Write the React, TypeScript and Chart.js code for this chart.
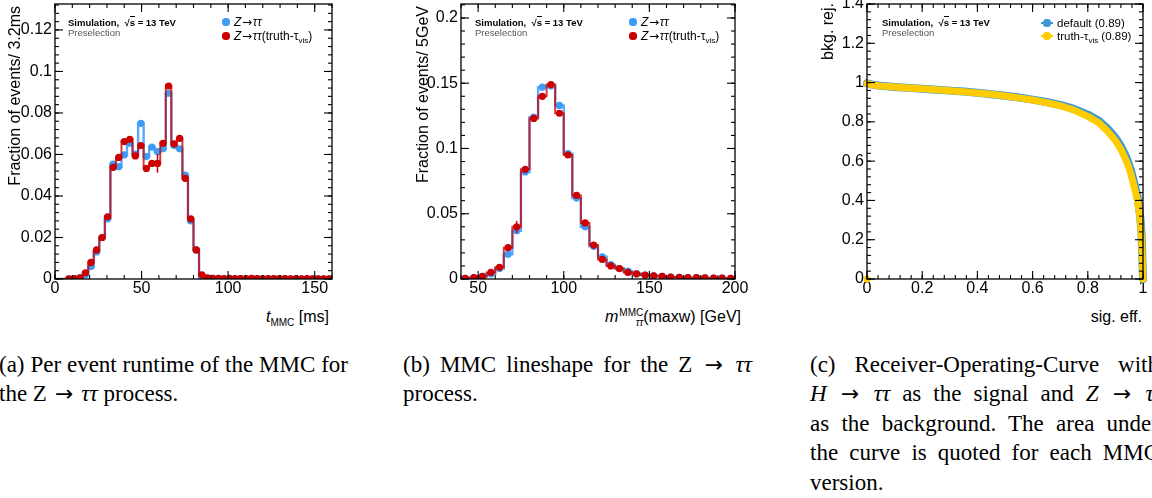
import React, { useEffect, useLayoutEffect, useRef } from 'react';
import { Chart, registerables } from 'chart.js';

Chart.register(...registerables);

const SANS = '"Liberation Sans", Arial, Helvetica, sans-serif';
const SERIF = '"Liberation Serif", "Times New Roman", serif';
const ARROWFONT = '"DejaVu Sans", sans-serif';
Chart.defaults.font.family = SANS;
Chart.defaults.color = '#000';

// ---------------- (a) MMC runtime, 3.2 ms bins ----------------
const runtimeBinStart = 0;
const runtimeBinWidth = 3.2;
const runtimeXTicks = [0, 50, 100, 150];
const runtimeYTicks = [0, 0.02, 0.04, 0.06, 0.08, 0.1, 0.12];
const runtimeDefault = [
  0, 0, 0.0001, 0.0002, 0.0005, 0.002, 0.006, 0.013, 0.02, 0.029,
  0.0554, 0.0541, 0.0598, 0.0654, 0.0602, 0.075, 0.059, 0.0635, 0.0614, 0.0627,
  0.0895, 0.0643, 0.0627, 0.0501, 0.028, 0.014, 0.001, 0.0003, 0.0003, 0.0003,
  0.0002, 0.0003, 0.0002, 0.0002, 0.0002, 0.0003, 0.0002, 0.0002, 0.0002, 0.0002,
  0.0002, 0.0002, 0.0001, 0.0002, 0.0001, 0.0002, 0.0001, 0.0001, 0.0001, 0.0001,
];
const runtimeTruth = [
  0, 0, 0.0001, 0.0002, 0.0006, 0.003, 0.008, 0.014, 0.02, 0.03,
  0.0538, 0.0586, 0.0662, 0.0673, 0.0593, 0.0643, 0.0533, 0.0557, 0.0557, 0.0654,
  0.093, 0.0651, 0.0678, 0.0485, 0.029, 0.014, 0.002, 0.0005, 0.0003, 0.0003,
  0.0002, 0.0003, 0.0002, 0.0002, 0.0002, 0.0003, 0.0002, 0.0002, 0.0002, 0.0002,
  0.0002, 0.0002, 0.0001, 0.0002, 0.0001, 0.0002, 0.0001, 0.0001, 0.0001, 0.0001,
];
const runtimeTruthErrBins = [18];
const runtimeTruthErrSizes = [0.0045];

// ---------------- (b) MMC lineshape, 5 GeV bins ----------------
const massBinStart = 40;
const massBinWidth = 5;
const massXTicks = [50, 100, 150, 200];
const massYTicks = [0, 0.05, 0.1, 0.15, 0.2];
const massDefault = [
  0.0005, 0.001, 0.002, 0.004, 0.008, 0.019, 0.037, 0.082, 0.124, 0.147,
  0.148, 0.133, 0.096, 0.062, 0.04, 0.025, 0.017, 0.011, 0.008, 0.006,
  0.004, 0.003, 0.0025, 0.002, 0.0015, 0.0013, 0.001, 0.001, 0.0008, 0.0006,
  0.0006, 0.0005,
];
const massTruth = [
  0.0005, 0.001, 0.002, 0.005, 0.009, 0.024, 0.04, 0.084, 0.123, 0.14,
  0.149, 0.127, 0.095, 0.064, 0.043, 0.026, 0.015, 0.01, 0.008, 0.005,
  0.004, 0.003, 0.0025, 0.002, 0.0015, 0.0013, 0.001, 0.001, 0.0008, 0.0006,
  0.0006, 0.0005,
];
const massTruthErrBins = [6];
const massTruthErrSizes = [0.0045];

// ---------------- (c) ROC ----------------
const rocTicks = [0, 0.2, 0.4, 0.6, 0.8, 1];
const rocYTicks = [0, 0.2, 0.4, 0.6, 0.8, 1, 1.2, 1.4];
const rocSigEff = [
  0, 0.02, 0.05, 0.1, 0.15, 0.2, 0.25, 0.3, 0.35, 0.4,
  0.45, 0.5, 0.55, 0.6, 0.65, 0.7, 0.75, 0.8, 0.84, 0.87,
  0.9, 0.92, 0.94, 0.955, 0.97, 0.98, 0.99, 0.995, 0.998, 1,
];
const rocDefault = [
  0.996, 0.989, 0.984, 0.978, 0.973, 0.969, 0.964, 0.959, 0.954, 0.948,
  0.941, 0.933, 0.924, 0.913, 0.901, 0.886, 0.866, 0.837, 0.806, 0.768,
  0.72, 0.676, 0.618, 0.56, 0.48, 0.42, 0.32, 0.22, 0.09, 0,
];
const rocTruth = [
  0.995, 0.988, 0.983, 0.977, 0.972, 0.968, 0.963, 0.958, 0.953, 0.947,
  0.94, 0.932, 0.922, 0.911, 0.898, 0.882, 0.86, 0.828, 0.795, 0.755,
  0.705, 0.66, 0.6, 0.54, 0.46, 0.4, 0.3, 0.2, 0.08, 0,
];
const rocStraySig = [0];
const rocStrayRej = [0];

// ---------------- colours ----------------
const BLUE_LINE = '#5aa9ff';
const BLUE_MARK = '#3d9cf5';
const RED_LINE = 'rgba(204,0,0,0.78)';
const RED_MARK = '#cc0000';
const ROC_BLUE = '#3a98d6';
const ROC_GOLD = '#ffcc00';

const fmt = (v: number) => String(Math.round(v * 10000) / 10000);

function multiples(min: number, max: number, step: number) {
  const out: number[] = [];
  const i0 = Math.ceil(min / step - 1e-6);
  const i1 = Math.floor(max / step + 1e-6);
  for (let i = i0; i <= i1; i++) out.push(i * step);
  return out;
}

const rootFrame = {
  id: 'rootFrame',
  afterDatasetsDraw(chart: any, _args: any, opts: any) {
    if (!opts || !opts.xMajor) return;
    const { ctx, chartArea: a, scales } = chart;
    const xs = scales.x;
    const ys = scales.y;
    ctx.save();
    (opts.errors || []).forEach((e: any) => {
      ctx.strokeStyle = e.color;
      ctx.lineWidth = 1.5;
      e.bins.forEach((b: number, i: number) => {
        const cx = xs.getPixelForValue(e.start + (b + 0.5) * e.width);
        const v = e.vals[b];
        ctx.beginPath();
        ctx.moveTo(cx, ys.getPixelForValue(v - e.sizes[i]));
        ctx.lineTo(cx, ys.getPixelForValue(v + e.sizes[i]));
        ctx.stroke();
      });
    });
    ctx.strokeStyle = '#000';
    ctx.lineWidth = 1.3;
    ctx.strokeRect(a.left, a.top, a.right - a.left, a.bottom - a.top);
    ctx.lineWidth = 1.1;
    const seg = (x1: number, y1: number, x2: number, y2: number) => {
      ctx.beginPath();
      ctx.moveTo(x1, y1);
      ctx.lineTo(x2, y2);
      ctx.stroke();
    };
    const xTick = (vals: number[], len: number) =>
      vals.forEach((v) => {
        const p = xs.getPixelForValue(v);
        seg(p, a.bottom, p, a.bottom - len);
        seg(p, a.top, p, a.top + len);
      });
    const yTick = (vals: number[], len: number) =>
      vals.forEach((v) => {
        const p = ys.getPixelForValue(v);
        seg(a.left, p, a.left + len, p);
        seg(a.right, p, a.right - len, p);
      });
    xTick(multiples(xs.min, xs.max, opts.xMinor), 4);
    xTick(opts.xMajor, 8);
    yTick(multiples(ys.min, ys.max, opts.yMinor), 4);
    yTick(opts.yMajor, 8);
    ctx.restore();
  },
};
Chart.register(rootFrame);

type Area = { left: number; top: number; right: number; bottom: number };

function baseOptions(
  W: number,
  H: number,
  area: Area,
  x: { min: number; max: number; ticks: number[]; minor: number },
  y: { min: number; max: number; ticks: number[]; minor: number },
  errors: any[] = []
): any {
  return {
    responsive: false,
    animation: false,
    events: [],
    layout: { padding: { top: area.top, left: 0, right: W - area.right, bottom: 0 } },
    plugins: {
      legend: { display: false },
      tooltip: { enabled: false },
      rootFrame: { xMajor: x.ticks, xMinor: x.minor, yMajor: y.ticks, yMinor: y.minor, errors },
    },
    scales: {
      x: {
        type: 'linear',
        min: x.min,
        max: x.max,
        grid: { display: false, drawTicks: false },
        border: { display: false },
        ticks: {
          padding: 0,
          font: { size: 16, family: SANS },
          color: '#000',
          maxRotation: 0,
          autoSkip: false,
          includeBounds: false,
          callback: (v: number) => fmt(v),
        },
        afterBuildTicks: (s: any) => {
          s.ticks = x.ticks.map((v) => ({ value: v }));
        },
        afterFit: (s: any) => {
          s.height = H - area.bottom;
          s.paddingLeft = 0;
          s.paddingRight = 0;
        },
      },
      y: {
        type: 'linear',
        min: y.min,
        max: y.max,
        grid: { display: false, drawTicks: false },
        border: { display: false },
        ticks: {
          padding: 3,
          font: { size: 16, family: SANS },
          color: '#000',
          autoSkip: false,
          includeBounds: false,
          callback: (v: number) => fmt(v),
        },
        afterBuildTicks: (s: any) => {
          s.ticks = y.ticks.map((v) => ({ value: v }));
        },
        afterFit: (s: any) => {
          s.width = area.left;
          s.paddingTop = 0;
          s.paddingBottom = 0;
        },
      },
    },
  };
}

// points at bin low edges (+ final upper edge); each bin's value holds until the next edge
function stepData(start: number, width: number, vals: number[]) {
  const pts = vals.map((v, i) => ({ x: start + i * width, y: v }));
  pts.push({ x: start + vals.length * width, y: vals[vals.length - 1] });
  return pts;
}
function markerData(start: number, width: number, vals: number[]) {
  return vals.map((v, i) => ({ x: start + (i + 0.5) * width, y: v })).filter((p) => p.y > 0);
}

function histConfig(
  W: number,
  H: number,
  area: Area,
  start: number,
  width: number,
  blue: number[],
  red: number[],
  xr: any,
  yr: any,
  errBins: number[],
  errSizes: number[]
) {
  return {
    type: 'line',
    data: {
      datasets: [
        { data: stepData(start, width, blue), stepped: 'before', borderColor: BLUE_LINE, borderWidth: 2.4, pointRadius: 0, order: 4 },
        { data: markerData(start, width, blue), showLine: false, pointRadius: 3.6, pointBackgroundColor: BLUE_MARK, pointBorderWidth: 0, order: 3 },
        { data: stepData(start, width, red), stepped: 'before', borderColor: RED_LINE, borderWidth: 2, pointRadius: 0, order: 2 },
        { data: markerData(start, width, red), showLine: false, pointRadius: 3.6, pointBackgroundColor: RED_MARK, pointBorderWidth: 0, order: 1 },
      ],
    },
    options: baseOptions(W, H, area, xr, yr, [
      { start, width, vals: red, bins: errBins, sizes: errSizes, color: RED_MARK },
    ]),
  };
}

function rocConfig(W: number, H: number, area: Area) {
  return {
    type: 'line',
    data: {
      datasets: [
        {
          data: rocSigEff.map((x, i) => ({ x, y: rocDefault[i] })),
          borderColor: ROC_BLUE,
          borderWidth: 8,
          pointRadius: 0,
          borderCapStyle: 'round',
          borderJoinStyle: 'round',
          clip: false,
          order: 3,
        },
        {
          data: rocSigEff.map((x, i) => ({ x, y: rocTruth[i] })),
          borderColor: ROC_GOLD,
          borderWidth: 7,
          pointRadius: 0,
          borderCapStyle: 'round',
          borderJoinStyle: 'round',
          clip: false,
          order: 2,
        },
        {
          data: rocStraySig.map((x, i) => ({ x, y: rocStrayRej[i] })),
          showLine: false,
          pointRadius: 3.5,
          pointBackgroundColor: ROC_GOLD,
          pointBorderWidth: 0,
          clip: false,
          order: 1,
        },
      ],
    },
    options: baseOptions(
      W,
      H,
      area,
      { min: 0, max: 1, ticks: rocTicks, minor: 0.04 },
      { min: 0, max: 1.4, ticks: rocYTicks, minor: 0.04 }
    ),
  };
}

function ChartCanvas({ left, width, height, build }: any) {
  const ref = useRef<HTMLCanvasElement>(null);
  useEffect(() => {
    const chart = new Chart(ref.current as HTMLCanvasElement, build());
    return () => chart.destroy();
  }, []);
  return (
    <canvas
      ref={ref}
      width={width}
      height={height}
      style={{ position: 'absolute', left, top: 0, width, height }}
    />
  );
}

function Abs({ x, y, style, children }: any) {
  return (
    <div style={{ position: 'absolute', left: x, top: y, whiteSpace: 'nowrap', ...style }}>{children}</div>
  );
}

function VText({ cx, top, len, size, children }: any) {
  const hd = Math.round(size * 1.15);
  return (
    <div
      style={{
        position: 'absolute',
        left: cx - hd / 2 - len,
        top,
        width: len,
        height: hd,
        lineHeight: hd + 'px',
        fontSize: size,
        fontFamily: SANS,
        textAlign: 'right',
        whiteSpace: 'nowrap',
        transformOrigin: '100% 0',
        transform: 'rotate(-90deg)',
      }}
    >
      {children}
    </div>
  );
}

function XTitle({ right, children }: any) {
  return (
    <div
      style={{
        position: 'absolute',
        left: right - 300,
        top: 308,
        width: 300,
        height: 18,
        lineHeight: '18px',
        fontSize: 16,
        fontFamily: SANS,
        textAlign: 'right',
        whiteSpace: 'nowrap',
      }}
    >
      {children}
    </div>
  );
}

function AtlasLabel({ x }: any) {
  return (
    <>
      <Abs x={x} y={16.5} style={{ font: `bold 9.5px ${SANS}`, lineHeight: '11px' }}>
        Simulation,{'\u00a0\u00a0'}
        <span>
          √<span style={{ borderTop: '1px solid #000' }}>s</span>
        </span>{' '}
        = 13 TeV
      </Abs>
      <Abs x={x} y={26.5} style={{ font: `9.5px ${SANS}`, lineHeight: '11px', color: '#555' }}>
        Preselection
      </Abs>
    </>
  );
}

function Dot({ x, y, color, r = 3.6 }: any) {
  return (
    <div
      style={{
        position: 'absolute',
        left: x - r,
        top: y - r,
        width: 2 * r,
        height: 2 * r,
        borderRadius: '50%',
        background: color,
      }}
    />
  );
}

const LArrow = () => (
  <span
    style={{
      display: 'inline-block',
      width: '0.95em',
      textAlign: 'center',
      fontStyle: 'normal',
      fontFamily: ARROWFONT,
    }}
  >
    →
  </span>
);

function ZLegend({ x }: any) {
  const txt = { font: `12px ${SANS}`, lineHeight: '14px' };
  return (
    <>
      <Dot x={x} y={22} color={BLUE_MARK} />
      <Abs x={x + 8} y={15} style={txt}>
        <i>Z</i>
        <LArrow />
        <i>ττ</i>
      </Abs>
      <Dot x={x} y={36} color={RED_MARK} />
      <Abs x={x + 8} y={29} style={txt}>
        <i>Z</i>
        <LArrow />
        <i>ττ</i>(truth-τ<sub style={{ fontSize: 8, verticalAlign: '-3px' }}>vis</sub>)
      </Abs>
    </>
  );
}

const Arrow = () => (
  <span
    style={{
      display: 'inline-block',
      width: '1.05em',
      textAlign: 'center',
      fontFamily: ARROWFONT,
      fontSize: '0.95em',
    }}
  >
    →
  </span>
);

function JLine({ left, top, width, justify, children }: any) {
  const ref = useRef<HTMLSpanElement>(null);
  useLayoutEffect(() => {
    const el = ref.current;
    if (!justify || !el) return;
    el.style.wordSpacing = '0px';
    const w = el.getBoundingClientRect().width;
    const n = (el.textContent || '').split(' ').length - 1;
    if (n > 0) el.style.wordSpacing = (width - w) / n + 'px';
  }, []);
  return (
    <div
      style={{
        position: 'absolute',
        left,
        top,
        whiteSpace: 'nowrap',
        fontFamily: SERIF,
        fontSize: 23,
        lineHeight: '29.5px',
      }}
    >
      <span ref={ref}>{children}</span>
    </div>
  );
}

const CAP_TOP = 349.5;
const CAP_LH = 29.5;
const CAP_W = 349;

export default function App() {
  const H = 300;
  const areaA = { left: 55, top: 4, right: 332, bottom: 279 };
  const areaB = { left: 61, top: 4, right: 335, bottom: 279 };
  const areaC = { left: 67, top: 3, right: 343, bottom: 279 };
  return (
    <div
      style={{
        position: 'absolute',
        left: 0,
        top: 0,
        width: 1152,
        height: 498,
        overflow: 'hidden',
        background: '#fff',
        color: '#000',
      }}
    >
      <ChartCanvas
        left={0}
        width={345}
        height={H}
        build={() =>
          histConfig(
            345,
            H,
            areaA,
            runtimeBinStart,
            runtimeBinWidth,
            runtimeDefault,
            runtimeTruth,
            { min: 0, max: 160, ticks: runtimeXTicks, minor: 10 },
            { min: 0, max: 0.1325, ticks: runtimeYTicks, minor: 0.004 },
            runtimeTruthErrBins,
            runtimeTruthErrSizes
          )
        }
      />
      <ChartCanvas
        left={400}
        width={350}
        height={H}
        build={() =>
          histConfig(
            350,
            H,
            areaB,
            massBinStart,
            massBinWidth,
            massDefault,
            massTruth,
            { min: 40, max: 200, ticks: massXTicks, minor: 10 },
            { min: 0, max: 0.2107, ticks: massYTicks, minor: 0.01 },
            massTruthErrBins,
            massTruthErrSizes
          )
        }
      />
      <ChartCanvas left={800} width={352} height={H} build={() => rocConfig(352, H, areaC)} />

      {/* axis titles */}
      <VText cx={15} top={6} len={220} size={16}>
        Fraction of events/ 3.2ms
      </VText>
      <VText cx={423} top={6} len={220} size={16}>
        Fraction of events/ 5GeV
      </VText>
      <VText cx={828} top={3} len={120} size={16}>
        bkg. rej.
      </VText>
      <XTitle right={329}>
        <i>t</i>
        <sub style={{ fontSize: 10, verticalAlign: '-4px' }}>MMC</sub> [ms]
      </XTitle>
      <XTitle right={741}>
        <i>m</i>
        <span
          style={{
            display: 'inline-flex',
            flexDirection: 'column',
            fontSize: 10,
            lineHeight: '10px',
            verticalAlign: 'middle',
            marginLeft: 1,
          }}
        >
          <span>MMC</span>
          <span style={{ fontStyle: 'italic' }}>ττ</span>
        </span>
        (maxw) [GeV]
      </XTitle>
      <XTitle right={1142}>sig. eff.</XTitle>

      {/* labels & legends */}
      <AtlasLabel x={68} />
      <AtlasLabel x={475} />
      <AtlasLabel x={882} />
      <ZLegend x={226} />
      <ZLegend x={633} />
      <div style={{ position: 'absolute', left: 1041, top: 22.3, width: 12, height: 1.4, background: ROC_BLUE }} />
      <Dot x={1047} y={23} color={ROC_BLUE} />
      <Abs x={1057} y={16} style={{ font: `11.5px ${SANS}`, lineHeight: '14px' }}>
        default (0.89)
      </Abs>
      <div style={{ position: 'absolute', left: 1041, top: 35.3, width: 12, height: 1.4, background: ROC_GOLD }} />
      <Dot x={1047} y={36} color={ROC_GOLD} />
      <Abs x={1057} y={29} style={{ font: `11.5px ${SANS}`, lineHeight: '14px' }}>
        truth-τ<sub style={{ fontSize: 8, verticalAlign: '-3px' }}>vis</sub> (0.89)
      </Abs>

      {/* captions */}
      <JLine left={-1} top={CAP_TOP} width={CAP_W} justify>
        (a) Per event runtime of the MMC for
      </JLine>
      <JLine left={-1} top={CAP_TOP + CAP_LH}>
        the Z <Arrow /> <i>ττ</i> process.
      </JLine>
      <JLine left={403} top={CAP_TOP} width={CAP_W} justify>
        (b) MMC lineshape for the Z <Arrow /> <i>ττ</i>
      </JLine>
      <JLine left={403} top={CAP_TOP + CAP_LH}>
        process.
      </JLine>
      <JLine left={810} top={CAP_TOP} width={CAP_W} justify>
        (c) Receiver-Operating-Curve with
      </JLine>
      <JLine left={810} top={CAP_TOP + CAP_LH} width={352} justify>
        <i>H</i> <Arrow /> <i>ττ</i> as the signal and <i>Z</i> <Arrow /> <i>ττ</i>
      </JLine>
      <JLine left={810} top={CAP_TOP + 2 * CAP_LH} width={CAP_W} justify>
        as the background. The area under
      </JLine>
      <JLine left={810} top={CAP_TOP + 3 * CAP_LH} width={CAP_W} justify>
        the curve is quoted for each MMC
      </JLine>
      <JLine left={810} top={CAP_TOP + 4 * CAP_LH}>
        version.
      </JLine>
    </div>
  );
}
